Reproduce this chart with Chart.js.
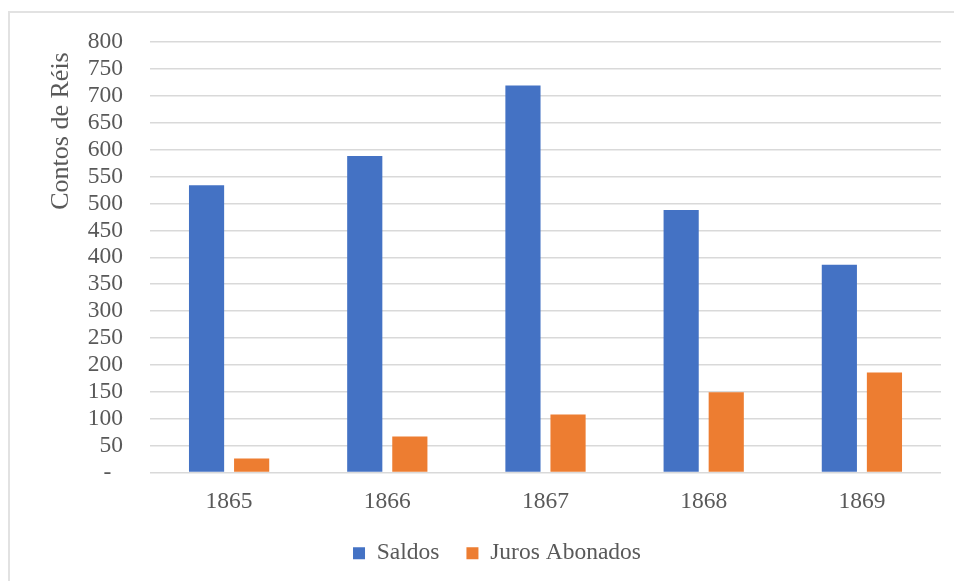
<!DOCTYPE html>
<html>
<head>
<meta charset="utf-8">
<script src="https://cdn.jsdelivr.net/npm/chart.js@4/dist/chart.umd.min.js"></script>
<style>
  html, body { margin: 0; padding: 0; background: #fff; }
  #wrap { position: relative; width: 954px; height: 581px; }
  #frame {
    position: absolute; left: 8px; top: 11px; right: -4px; bottom: -4px;
    border-left: 2px solid #e2e2e2; border-top: 2px solid #e2e2e2;
  }
  canvas { position: absolute; left: 0; top: 0; }
</style>
</head>
<body>
<div id="wrap">
  <div id="frame"></div>
  <canvas id="chart" width="954" height="581"></canvas>
</div>
<script>
// Saldos e juros abonados, em contos de réis
const anos = ['1865', '1866', '1867', '1868', '1869'];
const saldos = [534, 588, 719, 488, 386];
const jurosAbonados = [26, 67, 108, 149, 186];
const yTicks = [0, 50, 100, 150, 200, 250, 300, 350, 400, 450, 500, 550, 600, 650, 700, 750, 800];

const FONT = '"Liberation Serif", "Times New Roman", serif';
const TEXT = '#595959';

// rotated axis title, placed like the spreadsheet does it
const axisTitle = {
  id: 'axisTitle',
  afterDraw(chart) {
    const ctx = chart.ctx;
    ctx.save();
    ctx.translate(61, 131);
    ctx.rotate(-Math.PI / 2);
    ctx.font = '26px ' + FONT;
    ctx.fillStyle = TEXT;
    ctx.textAlign = 'center';
    ctx.textBaseline = 'middle';
    ctx.fillText('Contos de Réis', 0, 0);
    ctx.restore();
  }
};

new Chart(document.getElementById('chart'), {
  type: 'bar',
  data: {
    labels: anos,
    datasets: [
      { label: 'Saldos', data: saldos, backgroundColor: '#4472C4' },
      { label: 'Juros Abonados', data: jurosAbonados, backgroundColor: '#ED7D31' }
    ]
  },
  options: {
    responsive: false,
    animation: false,
    events: [],
    categoryPercentage: 0.57,
    barPercentage: 0.78,
    layout: { padding: { top: 42, left: 53, right: 13, bottom: 6 } },
    scales: {
      x: {
        grid: { display: false },
        border: { display: false },
        ticks: { color: TEXT, font: { family: FONT, size: 23.5 }, padding: 7 },
        afterFit(scale) { scale.height = 42; }
      },
      y: {
        min: 0,
        max: 800,
        afterBuildTicks(scale) { scale.ticks = yTicks.map(v => ({ value: v })); },
        grid: { color: '#d9d9d9', lineWidth: 1.5, drawTicks: false },
        border: { display: false },
        ticks: {
          color: TEXT,
          font: { family: FONT, size: 23.5 },
          padding: 27,
          autoSkip: false,
          callback: v => (v === 0 ? '-  ' : String(v))
        },
        afterFit(scale) { scale.width = 97; }
      }
    },
    plugins: {
      legend: {
        position: 'bottom',
        labels: {
          color: TEXT,
          font: { family: FONT, size: 23.5 },
          boxWidth: 12,
          boxHeight: 12,
          padding: 27
        }
      },
      tooltip: { enabled: false }
    }
  },
  plugins: [axisTitle]
});
</script>
</body>
</html>
